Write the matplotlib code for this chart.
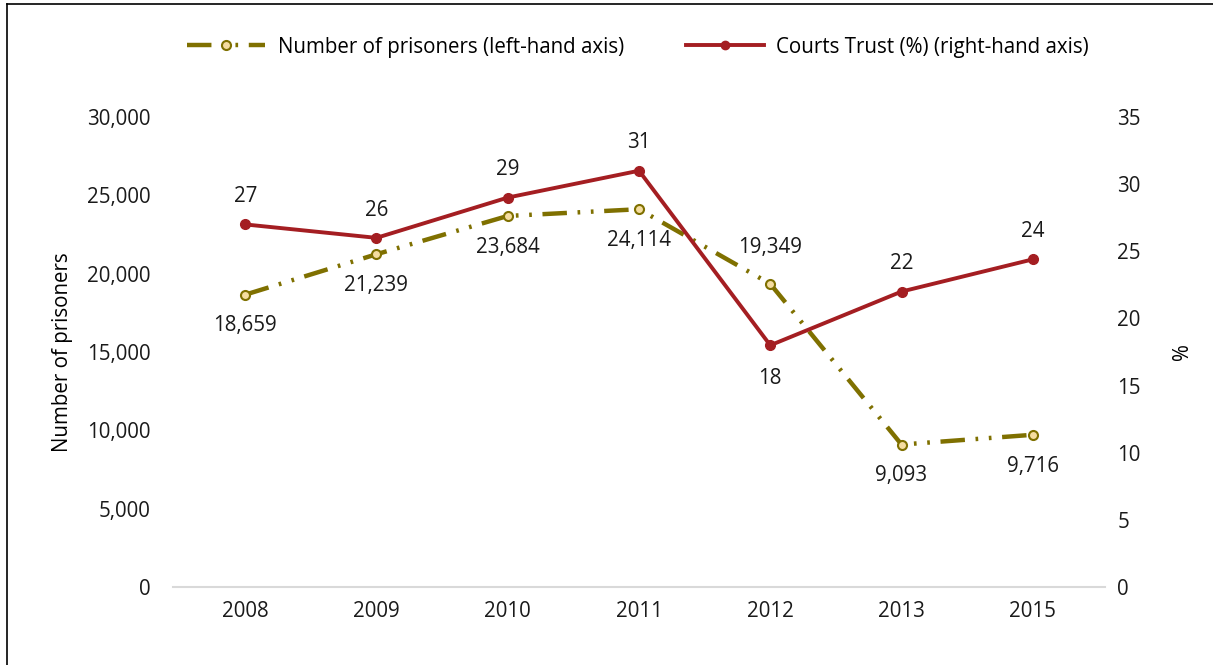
import matplotlib
matplotlib.use("Agg")
import matplotlib.pyplot as plt
from matplotlib.lines import Line2D

plt.rcParams['font.family'] = ['Open Sans', 'DejaVu Sans']

years = ["2008", "2009", "2010", "2011", "2012", "2013", "2015"]
prisoners = [18659, 21239, 23684, 24114, 19349, 9093, 9716]
trust = [27, 26, 29, 31, 18, 22, 24.4]
trust_labels = ["27", "26", "29", "31", "18", "22", "24"]
prisoner_labels = ["18,659", "21,239", "23,684", "24,114", "19,349", "9,093", "9,716"]
prisoner_label_above = [False, False, False, False, True, False, False]
trust_label_above = [True, True, True, True, False, True, True]

olive = "#7F7000"
red = "#A41E22"
fs = 14.8
dash = (0, (5.5, 2.4, 0.6, 2.4, 0.6, 2.4))

fig = plt.figure(figsize=(12.13, 6.65), dpi=100)
ax = fig.add_axes([173/1213, 1-587/665, (1105-173)/1213, (587-117)/665])
ax2 = ax.twinx()

x = list(range(len(years)))
ax.plot(x, prisoners, color=olive, lw=3.2, linestyle=dash,
        marker='o', ms=6.5, mfc="#F5DDA0", mec=olive, mew=1.5, zorder=3)
ax2.plot(x, trust, color=red, lw=2.8, marker='o', ms=7, mfc=red, mec=red, zorder=3)

ax.set_ylim(0, 30000)
ax2.set_ylim(0, 35)
ax.set_xlim(-0.55, len(years) - 0.45)
ax.set_yticks(range(0, 30001, 5000))
ax.set_yticklabels([f"{v:,}" for v in range(0, 30001, 5000)])
ax2.set_yticks(range(0, 36, 5))
ax.set_xticks(x)
ax.set_xticklabels(years)

for a in (ax, ax2):
    for s in a.spines.values():
        s.set_visible(False)
    a.tick_params(length=0, labelsize=fs, colors="#1a1a1a")
ax.spines['bottom'].set_visible(True)
ax.spines['bottom'].set_color("#d9d9d9")
ax.spines['bottom'].set_linewidth(1.5)
ax.tick_params(axis='y', pad=16)
ax.tick_params(axis='x', pad=10)
ax2.tick_params(axis='y', pad=9)

ax.set_ylabel("Number of prisoners", fontsize=fs, labelpad=10)
ax2.set_ylabel("%", fontsize=fs, rotation=90, labelpad=22)

for i, (v, lab, up) in enumerate(zip(prisoners, prisoner_labels, prisoner_label_above)):
    ax.annotate(lab, (i, v), xytext=(0, 26 if up else -22.5), textcoords='offset points',
                ha='center', va='center', fontsize=fs, color="#1a1a1a")
for i, (v, lab, up) in enumerate(zip(trust, trust_labels, trust_label_above)):
    ax2.annotate(lab, (i, v), xytext=(0, 20 if up else -24), textcoords='offset points',
                 ha='center', va='center', fontsize=fs, color="#1a1a1a")

handles = [
    Line2D([], [], color=olive, lw=3.2, linestyle=dash,
           marker='o', ms=6.5, mfc="#F5DDA0", mec=olive, mew=1.5),
    Line2D([], [], color=red, lw=2.8, marker='o', ms=6, mfc=red, mec=red),
]
fig.legend(handles, ["Number of prisoners (left-hand axis)", "Courts Trust (%) (right-hand axis)"],
           loc='center', bbox_to_anchor=(638/1213, 1-47/665), ncol=2, frameon=False,
           fontsize=fs, handlelength=3.8, columnspacing=3.0, handletextpad=0.6)

# figure border (top and left)
fig.add_artist(Line2D([7/1213, 1], [1-4/665, 1-4/665], transform=fig.transFigure, color="black", lw=1.2))
fig.add_artist(Line2D([7/1213, 7/1213], [0, 1-4/665], transform=fig.transFigure, color="black", lw=1.2))

fig.savefig("out.png", dpi=100)
